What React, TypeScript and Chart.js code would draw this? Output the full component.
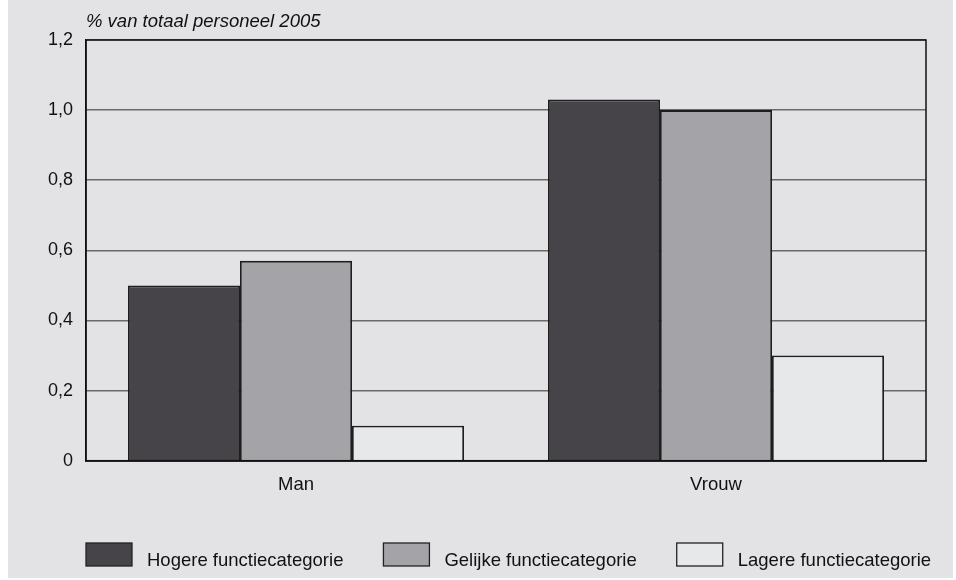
import React, { useEffect, useRef } from "react";
import { Chart, registerables } from "chart.js";

Chart.register(...registerables);

const categories = ["Man", "Vrouw"];
const seriesLabels = ["Hogere functiecategorie", "Gelijke functiecategorie", "Lagere functiecategorie"];
const hogere = [0.5, 1.03];
const gelijke = [0.57, 1.0];
const lagere = [0.1, 0.3];
const yTickLabels = ["0", "0,2", "0,4", "0,6", "0,8", "1,0", "1,2"];
const titleText = "% van totaal personeel 2005";

const colors = ["#464449", "#a4a3a7", "#e7e8ea"];
const FONT = "'Liberation Sans', Arial, Helvetica, sans-serif";

export default function App() {
  const ref = useRef<HTMLCanvasElement | null>(null);

  useEffect(() => {
    document.body.style.margin = "0";
    const canvas = ref.current;
    if (!canvas) return;

    const decor = {
      id: "decor",
      afterDraw(chart: any) {
        const { ctx, chartArea } = chart;
        ctx.save();
        // frame
        ctx.strokeStyle = "#111";
        ctx.lineWidth = 1.5;
        ctx.strokeRect(chartArea.left, chartArea.top, chartArea.right - chartArea.left, chartArea.bottom - chartArea.top);
        // title
        ctx.fillStyle = "#111";
        ctx.font = `italic 18.5px ${FONT}`;
        ctx.textAlign = "left";
        ctx.textBaseline = "alphabetic";
        ctx.fillText(titleText, chartArea.left, 27);
        // legend
        ctx.font = `18.5px ${FONT}`;
        let x = chartArea.left;
        const by = 543;
        chart.data.datasets.forEach((ds: any) => {
          ctx.fillStyle = ds.backgroundColor;
          ctx.fillRect(x, by, 46, 23);
          ctx.strokeStyle = "#222";
          ctx.lineWidth = 1.3;
          ctx.strokeRect(x, by, 46, 23);
          ctx.fillStyle = "#111";
          const tx = x + 46 + 15;
          ctx.fillText(ds.label, tx, 566);
          x = tx + ctx.measureText(ds.label).width + 40;
        });
        ctx.restore();
      },
    };

    const chart = new Chart(canvas, {
      type: "bar",
      data: {
        labels: categories,
        datasets: [hogere, gelijke, lagere].map((d, i) => ({
          label: seriesLabels[i],
          data: d,
          backgroundColor: colors[i],
          borderColor: "#1e1e1e",
          borderWidth: 1.8,
          categoryPercentage: 0.8,
          barPercentage: 1.0,
        })),
      },
      options: {
        animation: false,
        responsive: true,
        maintainAspectRatio: false,
        layout: { padding: { left: 0, right: 27, top: 40, bottom: 80 } },
        plugins: {
          legend: { display: false },
          title: { display: false },
          tooltip: { enabled: false },
        },
        scales: {
          x: {
            grid: { display: false, drawTicks: false },
            border: { display: true, color: "#111", width: 1.8 },
            ticks: { color: "#111", font: { family: FONT, size: 18.5 }, padding: 13 },
            afterFit: (s: any) => {
              s.height = 37.3;
            },
          },
          y: {
            min: 0,
            max: 1.2,
            ticks: {
              stepSize: 0.2,
              color: "#111",
              font: { family: FONT, size: 18 },
              padding: 13,
              callback: (_v: any, idx: number) => yTickLabels[idx],
            },
            grid: { color: "#6a6a6a", lineWidth: 1.5, drawTicks: false },
            border: { display: true, color: "#111", width: 1.5 },
            afterFit: (s: any) => {
              s.width = 78;
            },
          },
        },
      },
      plugins: [decor],
    });

    return () => chart.destroy();
  }, []);

  return (
    <div style={{ position: "relative", width: 956, height: 580, background: "#fff" }}>
      <div style={{ position: "absolute", left: 8, top: 0, width: 945, height: 578, background: "#e3e3e5" }}>
        <canvas ref={ref} />
      </div>
    </div>
  );
}
